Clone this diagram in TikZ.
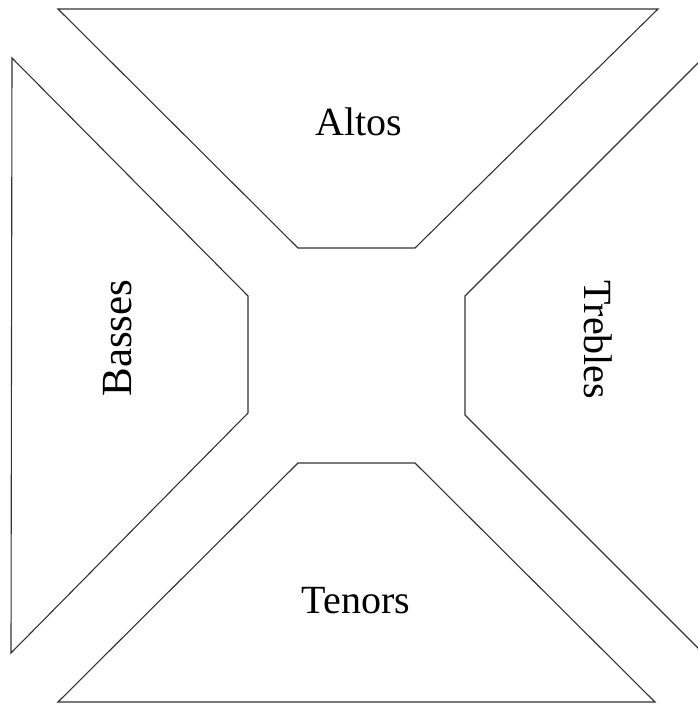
\documentclass[tikz,border=0pt]{standalone}
\usepackage{fontspec}
\setmainfont{Liberation Serif}
\usetikzlibrary{positioning}
\tikzset{
  part/.style={draw=black!80, line width=1.1pt, line join=miter},
  voice/.style={font=\fontsize{40}{48}\selectfont, inner sep=0pt}
}
\begin{document}
\begin{tikzpicture}[x=1pt, y=-1pt]
  \useasboundingbox (0,0) rectangle (697,704);
  % the four sections round the centre
  \draw[part] (58,9) -- (658,9) -- (415,248) -- (298,248) -- cycle;
  \draw[part] (12,58) -- (248,296) -- (248,413) -- (11,653) -- cycle;
  \draw[part] (699,62) -- (465,296) -- (465,415) -- (699,649) -- cycle;
  \draw[part] (298,463) -- (415,463) -- (655,702) -- (58,702) -- cycle;

  \node[voice] (altos) at (359,122) {Altos};
  \node[voice, rotate=90, font=\fontsize{43}{50}\selectfont] (basses) at (118,338) {Basses};
  \node[voice, rotate=-90] (trebles) at (598,340) {Trebles};
  \node[voice] (tenors) at (356,601) {Tenors};
\end{tikzpicture}
\end{document}
